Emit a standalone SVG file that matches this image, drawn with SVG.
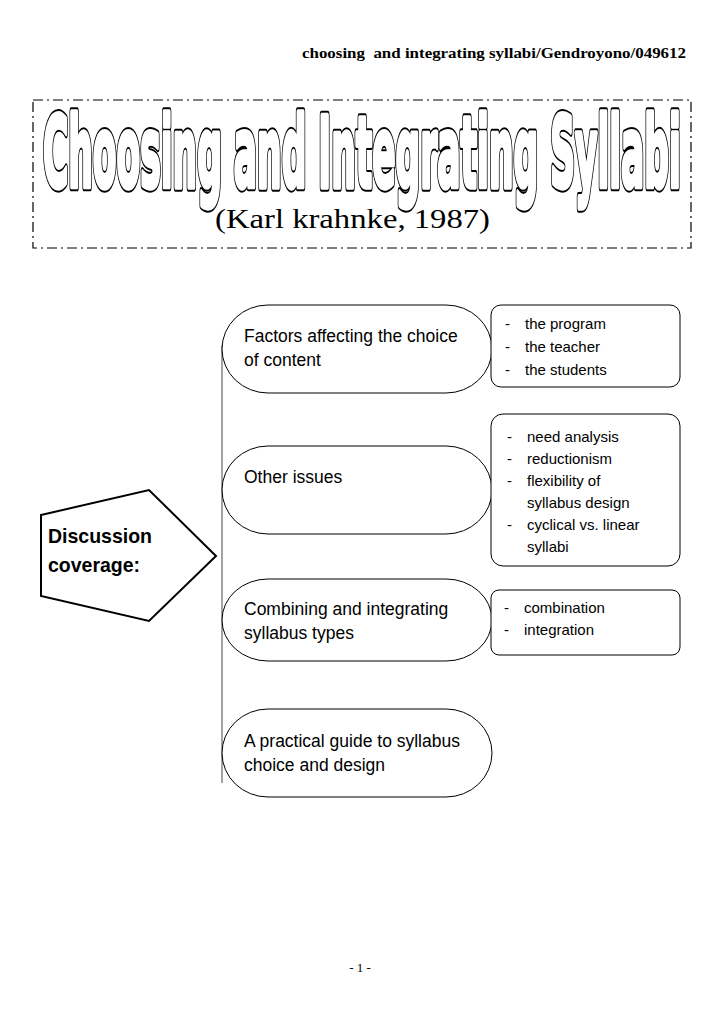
<svg xmlns="http://www.w3.org/2000/svg" width="720" height="1019" viewBox="0 0 720 1019">
<style>
.hdr{font-family:"Liberation Serif","Times New Roman",serif;font-weight:bold;font-size:15px;fill:#000}
.ttl{font-family:"DejaVu Sans","Liberation Sans",sans-serif;font-weight:bold;font-size:98px;vector-effect:non-scaling-stroke}
.ttlo{fill:#000;stroke:#000;stroke-width:7;stroke-linejoin:round}
.ttli{fill:#fff;stroke:#fff;stroke-width:4;stroke-linejoin:round}
.sub{font-family:"Liberation Serif","Times New Roman",serif;font-size:28px;fill:#000}
.oval{fill:#fff;stroke:#000;stroke-width:1}
.box{fill:#fff;stroke:#000;stroke-width:1}
.t{font-family:"Liberation Sans",Arial,sans-serif;font-size:17.5px;fill:#000}
.s{font-family:"Liberation Sans",Arial,sans-serif;font-size:15px;fill:#000}
.b{font-family:"Liberation Sans",Arial,sans-serif;font-size:20.5px;font-weight:bold;fill:#000}
.ft{font-family:"Liberation Serif","Times New Roman",serif;font-size:13px;fill:#000}
</style>
<text class="hdr" x="302" y="58" textLength="384" lengthAdjust="spacingAndGlyphs" xml:space="preserve">choosing  and integrating syllabi/Gendroyono/049612</text>
<g id="title">
<rect x="33" y="100" width="658" height="148" fill="none" stroke="#000" stroke-width="1.2" stroke-dasharray="10,4,2,4"/>
<g transform="translate(43,187) scale(0.353,1)">
<text class="ttl ttlo" x="0" y="0" textLength="1807" lengthAdjust="spacingAndGlyphs">Choosing and Integrating Syllabi</text>
<text class="ttl ttli" x="0" y="0" textLength="1807" lengthAdjust="spacingAndGlyphs">Choosing and Integrating Syllabi</text>
</g>
<text class="sub" x="215" y="228" textLength="275" lengthAdjust="spacingAndGlyphs">(Karl krahnke, 1987)</text>
</g>
<g id="connectors">
<line x1="222" y1="345" x2="222" y2="783" stroke="#666" stroke-width="1.2"/>
</g>
<g id="discussion">
<polygon points="41,515 149,490 216,556 149,621 41,596" fill="#fff" stroke="#000" stroke-width="2"/>
<text class="b" x="48" y="543" textLength="104" lengthAdjust="spacingAndGlyphs">Discussion</text>
<text class="b" x="48" y="572" textLength="92" lengthAdjust="spacingAndGlyphs">coverage:</text>
</g>
<g id="factors">
<rect class="oval" x="222" y="305" width="270" height="88" rx="46" ry="44"/>
<text class="t" x="244" y="342">Factors affecting the choice</text>
<text class="t" x="244" y="366">of content</text>
</g>
<g id="factors-list">
<rect class="box" x="491" y="305" width="189" height="82" rx="10" ry="10"/>
<text class="s" x="505" y="329">-</text><text class="s" x="525" y="329">the program</text>
<text class="s" x="505" y="352">-</text><text class="s" x="525" y="352">the teacher</text>
<text class="s" x="505" y="375">-</text><text class="s" x="525" y="375">the students</text>
</g>
<g id="other">
<rect class="oval" x="222" y="446" width="270" height="88" rx="46" ry="44"/>
<text class="t" x="244" y="483">Other issues</text>
</g>
<g id="other-list">
<rect class="box" x="491" y="414" width="189" height="152" rx="12" ry="12"/>
<text class="s" x="507" y="442">-</text><text class="s" x="527" y="442">need analysis</text>
<text class="s" x="507" y="464">-</text><text class="s" x="527" y="464">reductionism</text>
<text class="s" x="507" y="486">-</text><text class="s" x="527" y="486">flexibility of</text>
<text class="s" x="527" y="508">syllabus design</text>
<text class="s" x="507" y="530">-</text><text class="s" x="527" y="530">cyclical vs. linear</text>
<text class="s" x="527" y="552">syllabi</text>
</g>
<g id="combining">
<rect class="oval" x="222" y="579" width="270" height="82" rx="46" ry="41"/>
<text class="t" x="244" y="615">Combining and integrating</text>
<text class="t" x="244" y="639">syllabus types</text>
</g>
<g id="combining-list">
<rect class="box" x="491" y="590" width="189" height="65" rx="8" ry="8"/>
<text class="s" x="504" y="613">-</text><text class="s" x="524" y="613">combination</text>
<text class="s" x="504" y="635">-</text><text class="s" x="524" y="635">integration</text>
</g>
<g id="guide">
<rect class="oval" x="222" y="709" width="270" height="88" rx="46" ry="44"/>
<text class="t" x="244" y="747">A practical guide to syllabus</text>
<text class="t" x="244" y="771">choice and design</text>
</g>
<text class="ft" x="360" y="972" text-anchor="middle">- 1 -</text>
</svg>
